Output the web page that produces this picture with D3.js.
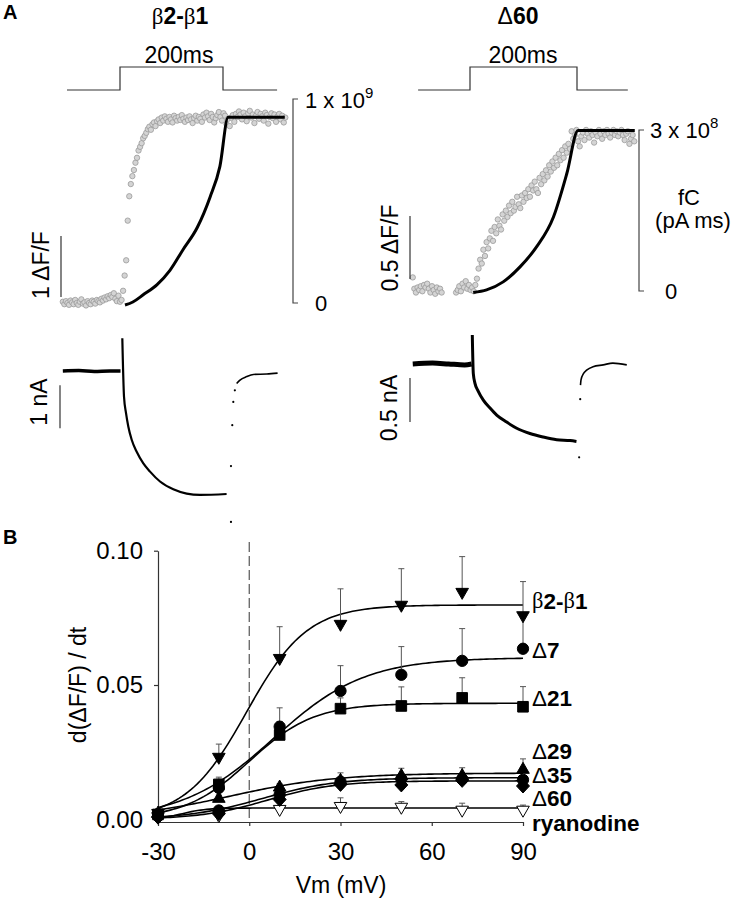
<!DOCTYPE html>
<html><head><meta charset="utf-8">
<script src="https://cdn.jsdelivr.net/npm/d3@7"></script>
<style>body{margin:0;background:#fff} svg{display:block;font-family:"Liberation Sans",Arial,sans-serif}</style>
</head><body><svg id="c" width="734" height="899"></svg>
<script>
// ---------------- Panel A data ----------------
// voltage pulse (time ms, level 0/1)
const pulseLeft = [[-103,0],[0,0],[0,1],[200,1],[200,0],[305,0]];
const pulseRight = [[-97,0],[0,0],[0,1],[200,1],[200,0],[295,0]];

// fluorescence ΔF/F, sampled every 3 ms
const fluoLeftStart = -111, fluoLeftStep = 3;
const fluoLeft = [
 0.02,-0.02,0.03,0.00,-0.03,0.04,0.01,-0.02,0.05,0.00,
 -0.03,0.02,0.06,-0.01,0.01,-0.04,0.03,0.00,-0.02,0.04,
 0.02,-0.01,0.05,0.03,0.01,0.07,0.04,0.09,0.06,0.11,
 0.08,0.13,0.10,0.16,0.07,0.03,0.12,0.02,0.05,0.20,
 0.45,0.70,1.35,1.75,1.95,2.08,2.18,2.30,2.38,2.50,
 2.56,2.62,2.70,2.74,2.79,2.85,2.89,2.84,2.93,2.96,
 2.90,2.98,3.01,2.95,3.04,2.99,3.06,3.02,2.97,3.05,
 3.01,2.96,3.07,3.03,2.99,3.05,3.00,3.08,3.02,2.97,
 3.04,3.00,3.06,3.01,2.95,3.03,3.07,2.99,3.05,3.02,
 2.97,3.09,3.04,3.12,3.06,3.00,3.10,3.05,2.96,3.03,
 3.08,3.13,3.05,2.99,3.11,3.07,2.93,3.02,2.90,3.04,
 3.08,2.97,3.10,3.05,3.14,3.09,3.01,3.12,3.06,2.98,
 3.11,3.15,3.04,3.09,2.95,3.07,3.13,3.02,3.10,3.06,
 2.99,3.12,3.08,2.94,3.05,3.11,3.03,3.09,2.97,3.06,
 3.10,3.01,3.07,2.96,3.04];
const fluoRightStart = -107, fluoRightStep = 3;
const fluoRight = [
 0.10,0.01,-0.02,0.02,0.00,0.03,-0.01,0.04,0.02,0.05,
 0.01,-0.02,0.03,0.00,-0.03,0.02,-0.01,0.01,-0.02,null,
 null,null,null,null,null,null,null,-0.02,0.00,0.03,
 -0.01,0.05,0.02,0.07,0.01,0.04,0.00,0.02,-0.01,0.04,
 0.09,0.17,0.24,0.21,0.32,0.27,0.38,0.33,0.41,0.47,
 0.39,0.50,0.45,0.56,0.51,0.48,0.60,0.55,0.63,0.58,
 0.67,0.61,0.70,0.63,0.66,0.74,0.68,0.65,0.75,0.70,
 0.77,0.73,0.80,0.74,0.83,0.79,0.86,0.80,0.77,0.89,
 0.84,0.92,0.87,0.95,0.90,0.99,0.94,1.02,0.97,1.05,
 0.99,1.08,1.03,1.11,1.05,1.14,1.09,1.16,1.12,1.26,
 1.20,1.23,1.27,1.18,1.14,1.22,1.25,1.19,1.27,1.24,
 1.21,1.26,1.23,1.17,1.25,1.22,1.27,1.24,1.20,1.26,
 1.23,1.27,1.24,1.21,1.25,1.27,1.23,1.26,1.22,1.25,
 1.27,1.23,1.19,1.24,1.26,1.16,1.20,1.23,1.18];

// charge (fC): left in units of 1e9, right in units of 1e8
const chargeLeftT = [9.7,25,45,72,97,122,150,175,194,210,320];
const chargeLeftQ = [-0.01,0.005,0.04,0.09,0.16,0.26,0.37,0.52,0.67,0.91,0.91];
const chargeRightT = [6,31,62,93.5,125,156,181,202,308];
const chargeRightQ = [-0.03,0.02,0.17,0.45,0.83,1.38,2.19,2.99,2.99];

// currents (nA)
const currLeftBaseT = [-111,-80,-50,-20,1];
const currLeftBaseI = [0,0.01,-0.01,0,0];
const currLeftT = [4.5,7.8,11.7,16.1,22.7,32.4,45.3,58.3,77.7,103.5,129.5,155.3,207];
const currLeftI = [0.76,-0.60,-0.98,-1.29,-1.60,-1.88,-2.15,-2.34,-2.57,-2.75,-2.85,-2.88,-2.86];
const currLeftTailDotT = [215.5,215.5,218,220,223];
const currLeftTailDotI = [-3.51,-2.21,-1.26,-0.72,-0.45];
const currLeftRecT = [226.5,233,246,259,285,306];
const currLeftRecI = [-0.29,-0.21,-0.13,-0.08,-0.07,-0.05];

const currRightBaseT = [-107,-70,-40,-10,3];
const currRightBaseI = [0,0.01,0,-0.01,0];
const currRightT = [4.3,6.2,9.3,15.5,24.9,37.4,49.9,68.6,87.3,112,137,162,187,199];
const currRightI = [0.33,-0.11,-0.22,-0.31,-0.41,-0.50,-0.58,-0.66,-0.73,-0.79,-0.83,-0.86,-0.87,-0.88];
const currRightTailDotT = [204,206];
const currRightTailDotI = [-1.06,-0.40];
const currRightRecT = [206.5,207.5,212,218,230,249,267,293];
const currRightRecI = [-0.24,-0.18,-0.11,-0.07,-0.03,-0.01,0.01,-0.01];

// ---------------- Panel B data ----------------
const voltages = [-30,-10,10,30,50,70,90];
const seriesNames = ["β2-β1","Δ7","Δ21","Δ29","Δ35","Δ60","ryanodine"];
const b2b1 = [0.0020,0.0229,0.0597,0.0724,0.0795,0.0843,0.0756];
const b2b1Err = [0.0010,0.0051,0.0120,0.0134,0.0138,0.0135,0.0129];
const d7 = [0.0020,0.0117,0.0345,0.0478,0.0538,0.0590,0.0635];
const d7Err = [0.0010,0.0040,0.0070,0.0094,0.0105,0.0120,0.0120];
const d21 = [0.0018,0.0130,0.0314,0.0412,0.0422,0.0452,0.0419];
const d21Err = [0.0010,0.0020,0.0050,0.0040,0.0071,0.0075,0.0075];
const d29 = [0.0025,0.0080,0.0122,0.0147,0.0165,0.0165,0.0188];
const d29Err = [0.0005,0.0010,0.0010,0.0026,0.0025,0.0027,0.0037];
const d35 = [0.0012,0.0033,0.0092,0.0140,0.0150,0.0150,0.0147];
const d35Err = [0.0005,0.0008,0.0010,0.0015,0.0015,0.0015,0.0015];
const d60 = [0.0008,0.0021,0.0074,0.0130,0.0128,0.0145,0.0124];
const d60Err = [0.0004,0.0006,0.0008,0.0012,0.0012,0.0012,0.0012];
const ryan = [0.0008,0.0012,0.0035,0.0046,0.0043,0.0032,0.0032];
const ryanErr = [0.0003,0.0003,0.0005,0.0034,0.0023,0.0028,0.0021];
// Boltzmann fit parameters [max, V50 (mV), k (mV)]
const fitParams = [[0.0798,-0.9,10],[0.0602,8,15],[0.0432,0,10.6],[0.0172,-6.4,17.4],[0.0155,4.3,12.3],[0.0143,6,11],[0.0042,-22,4]];
const yTicks = [0,0.05,0.10];
const xTicks = [-30,0,30,60,90];

// ---------------- drawing ----------------
const svg = d3.select("#c");
svg.append("rect").attr("width",734).attr("height",899).attr("fill","#fff");
const FS = 23;

// panel letters
svg.append("text").attr("x",3).attr("y",19).attr("font-size",20).attr("font-weight","bold").text("A");
svg.append("text").attr("x",3).attr("y",544).attr("font-size",20).attr("font-weight","bold").text("B");

function betaLabel(t){
  t.append("tspan").attr("font-family","Liberation Serif, serif").attr("font-weight","normal").text("β");
  t.append("tspan").text("2-");
  t.append("tspan").attr("font-family","Liberation Serif, serif").attr("font-weight","normal").text("β");
  t.append("tspan").text("1");
}
// titles
const t1 = svg.append("text").attr("x",180).attr("y",24).attr("text-anchor","middle").attr("font-size",23).attr("font-weight","bold");
betaLabel(t1);
const t2 = svg.append("text").attr("x",518).attr("y",24).attr("text-anchor","middle").attr("font-size",23).attr("font-weight","bold");
t2.append("tspan").attr("font-weight","normal").text("Δ");
t2.append("tspan").text("60");

// scales panel A
const xL = d3.scaleLinear().domain([0,200]).range([120,223]);
const xR = d3.scaleLinear().domain([0,200]).range([470,577]);
const yP = d3.scaleLinear().domain([0,1]).range([90,67]);
const yFL = d3.scaleLinear().domain([0,1]).range([303,242]);
const yFR = d3.scaleLinear().domain([0,1]).range([290,164]);
const yQL = d3.scaleLinear().domain([0,1]).range([303,99]);
const yQR = d3.scaleLinear().domain([0,3]).range([291,130]);
const yIL = d3.scaleLinear().domain([0,-1]).range([371,414]);
const yIR = d3.scaleLinear().domain([0,-1]).range([364,452]);

function pulse(data, x, cx){
  svg.append("path").datum(data).attr("fill","none").attr("stroke","#333").attr("stroke-width",1.2)
    .attr("d", d3.line().x(d=>x(d[0])).y(d=>yP(d[1])));
  svg.append("text").attr("x",cx).attr("y",63).attr("text-anchor","middle").attr("font-size",FS).text("200ms");
}
pulse(pulseLeft, xL, 179);
pulse(pulseRight, xR, 523);

function scatter(vals, start, step, x, y){
  const pts = vals.map((v,i)=>({t:start+i*step, v})).filter(d=>d.v!==null);
  svg.append("g").selectAll("circle").data(pts).join("circle")
    .attr("cx",d=>x(d.t)).attr("cy",d=>y(d.v)).attr("r",2.7)
    .attr("fill","#d4d4d4").attr("stroke","#9a9a9a").attr("stroke-width",0.8);
}
scatter(fluoLeft, fluoLeftStart, fluoLeftStep, xL, yFL);
scatter(fluoRight, fluoRightStart, fluoRightStep, xR, yFR);

function curve(T, V, x, y, w, c){
  svg.append("path").datum(T.map((t,i)=>[t,V[i]])).attr("fill","none").attr("stroke",c||"#000")
    .attr("stroke-width",w).attr("stroke-linejoin","round")
    .attr("d", d3.line().x(d=>x(d[0])).y(d=>y(d[1])).curve(d3.curveMonotoneX));
}
curve(chargeLeftT, chargeLeftQ, xL, yQL, 3);
curve(chargeRightT, chargeRightQ, xR, yQR, 3);

// scale bars
function vbar(x, y1, y2){
  svg.append("line").attr("x1",x).attr("x2",x).attr("y1",y1).attr("y2",y2).attr("stroke","#333").attr("stroke-width",1.2);
}
function rotLabel(x, y, txt){
  svg.append("text").attr("transform",`translate(${x},${y}) rotate(-90)`).attr("text-anchor","middle")
    .attr("dominant-baseline","middle").attr("font-size",FS).text(txt);
}
vbar(61, yFL(0.1), yFL(1.1)); rotLabel(43, 265, "1 ΔF/F");
vbar(410, yFR(0.087), yFR(0.587)); rotLabel(392, 248, "0.5 ΔF/F");
vbar(60, yIL(-0.33), yIL(-1.33)); rotLabel(41, 402, "1 nA");
vbar(410, yIR(-0.16), yIR(-0.66)); rotLabel(391, 408, "0.5 nA");

// right brackets
function bracket(x, y0, y1){
  svg.append("path").attr("fill","none").attr("stroke","#444").attr("stroke-width",1.2)
    .attr("d",`M${x+5},${y1}H${x}V${y0}H${x+5}`);
}
bracket(293, yQL(0), yQL(1));
bracket(639, yQR(0), yQR(3));
function sciLabel(x, y, mant, exp){
  const t = svg.append("text").attr("x",x).attr("y",y).attr("font-size",22);
  t.append("tspan").text(mant+" x 10");
  t.append("tspan").attr("font-size",15).attr("dy",-10).text(exp);
}
sciLabel(305, 108, "1", "9");
svg.append("text").attr("x",315).attr("y",311).attr("font-size",22).text("0");
sciLabel(650, 138, "3", "8");
svg.append("text").attr("x",665).attr("y",299).attr("font-size",22).text("0");
svg.append("text").attr("x",689).attr("y",205).attr("text-anchor","middle").attr("font-size",22).text("fC");
svg.append("text").attr("x",693).attr("y",228).attr("text-anchor","middle").attr("font-size",22).text("(pA ms)");

// currents
curve(currLeftBaseT, currLeftBaseI, xL, yIL, 3.5);
curve(currLeftT, currLeftI, xL, yIL, 2.2);
curve(currLeftRecT, currLeftRecI, xL, yIL, 1.6);
svg.append("g").selectAll("circle").data(currLeftTailDotT.map((t,i)=>[t,currLeftTailDotI[i]])).join("circle")
  .attr("cx",d=>xL(d[0])).attr("cy",d=>yIL(d[1])).attr("r",1.1).attr("fill","#000");
curve(currRightBaseT, currRightBaseI, xR, yIR, 5);
curve(currRightT, currRightI, xR, yIR, 3);
curve(currRightRecT, currRightRecI, xR, yIR, 1.6);
svg.append("g").selectAll("circle").data(currRightTailDotT.map((t,i)=>[t,currRightTailDotI[i]])).join("circle")
  .attr("cx",d=>xR(d[0])).attr("cy",d=>yIR(d[1])).attr("r",1.1).attr("fill","#000");

// ---------------- Panel B ----------------
const xB = d3.scaleLinear().domain([-30,90]).range([158,523]);
const yB = d3.scaleLinear().domain([-0.001,0.10]).range([822,550.7]);

svg.append("line").attr("x1",xB(0)).attr("x2",xB(0)).attr("y1",542).attr("y2",822)
  .attr("stroke","#555").attr("stroke-width",1.2).attr("stroke-dasharray","10,4");

const gy = svg.append("g").attr("transform",`translate(${xB(-30)},0)`)
  .call(d3.axisLeft(yB).tickValues(yTicks).tickFormat(d3.format(".2f")).tickSize(4).tickSizeOuter(0).tickPadding(11));
const gx = svg.append("g").attr("transform",`translate(0,${yB(-0.001)})`)
  .call(d3.axisBottom(xB).tickValues(xTicks).tickSize(4).tickSizeOuter(0).tickPadding(17));
[gx,gy].forEach(g=>{
  g.selectAll("path,line").attr("stroke","#333").attr("stroke-width",1.2);
  g.selectAll("text").attr("font-size",24).attr("font-family","Liberation Sans, Arial, sans-serif").attr("fill","#000");
});
gx.selectAll("text").text(d=>d<0?"-"+Math.abs(d):d);

svg.append("text").attr("transform","translate(80,685) rotate(-90)").attr("text-anchor","middle")
  .attr("dominant-baseline","middle").attr("font-size",FS).text("d(ΔF/F) / dt");
svg.append("text").attr("x",341).attr("y",893).attr("text-anchor","middle").attr("font-size",FS).text("Vm (mV)");

const seriesVals = [b2b1,d7,d21,d29,d35,d60,ryan];
const seriesErrs = [b2b1Err,d7Err,d21Err,d29Err,d35Err,d60Err,ryanErr];
const fitV = d3.range(-30, 90.001, 1);
fitParams.forEach(p=>{
  svg.append("path").datum(fitV).attr("fill","none").attr("stroke","#000").attr("stroke-width",1.6)
    .attr("d", d3.line().x(v=>xB(v)).y(v=>yB(p[0]/(1+Math.exp((p[1]-v)/p[2])))));
});
// error bars
seriesVals.forEach((vals,s)=>{
  const g = svg.append("g").attr("stroke","#555").attr("stroke-width",1);
  vals.forEach((v,i)=>{
    const x = xB(voltages[i]), y0 = yB(v), y1 = yB(v+seriesErrs[s][i]);
    g.append("line").attr("x1",x).attr("x2",x).attr("y1",y0).attr("y2",y1);
    g.append("line").attr("x1",x-3).attr("x2",x+3).attr("y1",y1).attr("y2",y1);
  });
});
// markers (ryanodine drawn first, underneath)
const shapes = [
  {d:"M-6.3,-4.5L6.3,-4.5L0,6.5Z", fill:"#000"},
  {d:d3.symbol(d3.symbolCircle,100)(), fill:"#000"},
  {d:"M-5.3,-5.3H5.3V5.3H-5.3Z", fill:"#000"},
  {d:"M0,-6.5L6.3,4.5L-6.3,4.5Z", fill:"#000"},
  {d:d3.symbol(d3.symbolCircle,100)(), fill:"#000"},
  {d:"M0,-7L6.5,0L0,7L-6.5,0Z", fill:"#000"},
  {d:"M-6.3,-4.5L6.3,-4.5L0,6.5Z", fill:"#fff"}
];
[6,0,1,2,3,4,5].forEach(s=>{
  svg.append("g").selectAll("path").data(seriesVals[s]).join("path")
    .attr("transform",(v,i)=>`translate(${xB(voltages[i])},${yB(v)})`)
    .attr("d",shapes[s].d).attr("fill",shapes[s].fill).attr("stroke","#000").attr("stroke-width",1);
});
// series labels
const labelY = [603,652,700,753,777,800,825];
seriesNames.forEach((n,i)=>{
  const t = svg.append("text").attr("x",532).attr("y",labelY[i]).attr("dominant-baseline","middle")
    .attr("font-size",22.5).attr("font-weight","bold");
  if(n.startsWith("β")) betaLabel(t);
  else if(n.startsWith("Δ")){
    t.append("tspan").attr("font-weight","normal").text("Δ");
    t.append("tspan").text(n.slice(1));
  } else t.text(n);
});
</script></body></html>
